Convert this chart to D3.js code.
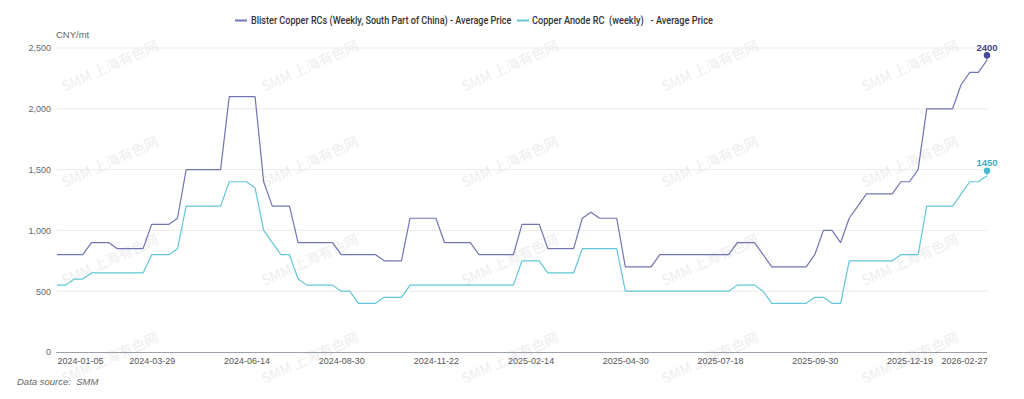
<!DOCTYPE html>
<html>
<head>
<meta charset="utf-8">
<script src="https://cdn.jsdelivr.net/npm/d3@7"></script>
<style>
  html, body { margin: 0; padding: 0; background: #fff; }
  svg { display: block; }
</style>
</head>
<body>
<div id="chart"></div>
<script>
// weekly assessment dates (holiday weeks shift or drop out)
const dates = [
  '2024-01-05','2024-01-12','2024-01-19','2024-01-26','2024-02-02','2024-02-09','2024-02-23','2024-03-01','2024-03-08','2024-03-15','2024-03-22',
  '2024-03-29','2024-04-03','2024-04-12','2024-04-19','2024-04-26','2024-04-30','2024-05-10','2024-05-17','2024-05-24','2024-05-31','2024-06-07',
  '2024-06-14','2024-06-21','2024-06-28','2024-07-05','2024-07-12','2024-07-19','2024-07-26','2024-08-02','2024-08-09','2024-08-16','2024-08-23',
  '2024-08-30','2024-09-06','2024-09-13','2024-09-20','2024-09-27','2024-10-11','2024-10-18','2024-10-25','2024-11-01','2024-11-08','2024-11-15',
  '2024-11-22','2024-11-29','2024-12-06','2024-12-13','2024-12-20','2024-12-27','2025-01-03','2025-01-10','2025-01-17','2025-01-24','2025-02-07',
  '2025-02-14','2025-02-21','2025-02-28','2025-03-07','2025-03-14','2025-03-21','2025-03-28','2025-04-03','2025-04-11','2025-04-18','2025-04-25',
  '2025-04-30','2025-05-09','2025-05-16','2025-05-23','2025-05-30','2025-06-06','2025-06-13','2025-06-20','2025-06-27','2025-07-04','2025-07-11',
  '2025-07-18','2025-07-25','2025-08-01','2025-08-08','2025-08-15','2025-08-22','2025-08-29','2025-09-05','2025-09-12','2025-09-19','2025-09-26',
  '2025-09-30','2025-10-10','2025-10-17','2025-10-24','2025-10-31','2025-11-07','2025-11-14','2025-11-21','2025-11-28','2025-12-05','2025-12-12',
  '2025-12-19','2025-12-26','2026-01-02','2026-01-09','2026-01-16','2026-01-23','2026-01-30','2026-02-06','2026-02-13','2026-02-27'
];

const blister = [
  800,800,800,800,900,900,900,850,850,850,850,
  1050,1050,1050,1100,1500,1500,1500,1500,1500,2100,2100,
  2100,2100,1400,1200,1200,1200,900,900,900,900,900,
  800,800,800,800,800,750,750,750,1100,1100,1100,
  1100,900,900,900,900,800,800,800,800,800,1050,
  1050,1050,850,850,850,850,1100,1150,1100,1100,1100,
  700,700,700,700,800,800,800,800,800,800,800,
  800,800,900,900,900,800,700,700,700,700,700,
  800,1000,1000,900,1100,1200,1300,1300,1300,1300,1400,
  1400,1500,2000,2000,2000,2000,2200,2300,2300,2400
];

const anode = [
  550,550,600,600,650,650,650,650,650,650,650,
  800,800,800,850,1200,1200,1200,1200,1200,1400,1400,
  1400,1350,1000,900,800,800,600,550,550,550,550,
  500,500,400,400,400,450,450,450,550,550,550,
  550,550,550,550,550,550,550,550,550,550,750,
  750,750,650,650,650,650,850,850,850,850,850,
  500,500,500,500,500,500,500,500,500,500,500,
  500,500,550,550,550,500,400,400,400,400,400,
  450,450,400,400,750,750,750,750,750,750,800,
  800,800,1200,1200,1200,1200,1300,1400,1400,1450
];

const tickLabels = ['2024-01-05','2024-03-29','2024-06-14','2024-08-30','2024-11-22','2025-02-14',
  '2025-04-30','2025-07-18','2025-09-30','2025-12-19','2026-02-27'];
const yTicks = [0, 500, 1000, 1500, 2000, 2500];

const seriesNames = ['Blister Copper RCs (Weekly, South Part of China) - Average Price',
  'Copper Anode RC  (weekly)   - Average Price'];

const width = 1024, height = 399;
const plotLeft = 57, plotRight = 987, plotTop = 48, plotBottom = 352;
const colBlister = '#7275b2', colAnode = '#63c6d6';
const axisFont = '"Liberation Sans", Arial, sans-serif';

const svg = d3.select('#chart').append('svg')
  .attr('width', width).attr('height', height)
  .attr('font-family', axisFont);

const x = d3.scalePoint().domain(dates).range([plotLeft, plotRight]);
const y = d3.scaleLinear().domain([0, 2500]).range([plotBottom, plotTop]);

// watermark
const wm = svg.append('g').attr('class', 'watermark');
[110, 310, 510, 710, 910].forEach(cx => {
  [66, 162, 260, 358].forEach(cy => {
    wm.append('text')
      .attr('transform', `translate(${cx},${cy}) rotate(-24)`)
      .attr('text-anchor', 'middle')
      .attr('dy', '0.35em')
      .attr('font-family', '"Noto Sans CJK SC", "Noto Sans", sans-serif')
      .attr('font-size', 14)
      .attr('fill', '#eeeeee')
      .text('SMM 上海有色网');
  });
});

// grid
svg.append('g').selectAll('line')
  .data(yTicks.filter(d => d > 0))
  .enter().append('line')
  .attr('x1', plotLeft).attr('x2', plotRight)
  .attr('y1', d => y(d)).attr('y2', d => y(d))
  .attr('stroke', '#ebebeb').attr('stroke-width', 1);

// y axis
const yAxis = svg.append('g')
  .attr('transform', `translate(${plotLeft},0)`)
  .call(d3.axisLeft(y).tickValues(yTicks).tickFormat(d3.format(',')).tickSize(0).tickPadding(6));
yAxis.select('.domain').remove();
yAxis.selectAll('text').attr('font-size', 9).attr('fill', '#666').attr('font-family', axisFont);

svg.append('text')
  .attr('x', 56).attr('y', 38)
  .attr('font-size', 9.5).attr('fill', '#666')
  .text('CNY/mt');

// x axis
const xAxis = svg.append('g')
  .attr('transform', `translate(0,${plotBottom})`)
  .call(d3.axisBottom(x).tickValues(tickLabels).tickSize(0).tickPadding(6));
xAxis.select('.domain').remove();
xAxis.selectAll('text').attr('font-size', 9).attr('fill', '#555').attr('font-family', axisFont)
  .attr('text-anchor', (d, i) => i === 0 ? 'start' : (i === tickLabels.length - 1 ? 'end' : 'middle'));
svg.append('line')
  .attr('x1', plotLeft - 1).attr('x2', plotRight)
  .attr('y1', plotBottom + 0.5).attr('y2', plotBottom + 0.5)
  .attr('stroke', '#9ea1ab').attr('stroke-width', 1);

// lines
const line = d3.line().x((d, i) => x(dates[i])).y(d => y(d));
[[anode, colAnode], [blister, colBlister]].forEach(([vals, c]) => {
  svg.append('path')
    .datum(vals)
    .attr('fill', 'none')
    .attr('stroke', c)
    .attr('stroke-width', 1.2)
    .attr('stroke-linejoin', 'round')
    .attr('d', line);
});

// end markers (small pin above the last point, value on top)
const ends = [
  { vals: blister, fill: '#444a94', text: '#3f4590' },
  { vals: anode, fill: '#48b9cc', text: '#3aafc5' }
];
ends.forEach(e => {
  const last = e.vals.length - 1;
  const px = x(dates[last]), py = y(e.vals[last]);
  svg.append('path')
    .attr('d', `M${px - 2},${py - 3.5} L${px},${py - 0.5} L${px + 2},${py - 3.5} Z`)
    .attr('fill', e.fill);
  svg.append('circle').attr('cx', px).attr('cy', py - 5).attr('r', 3.2).attr('fill', e.fill);
  svg.append('text')
    .attr('x', px).attr('y', py - 9.5)
    .attr('text-anchor', 'middle')
    .attr('font-size', 9.5).attr('font-weight', 'bold')
    .attr('fill', e.text)
    .text(e.vals[last]);
});

// legend
const legend = svg.append('g').attr('font-family', 'Roboto, "Noto Sans", sans-serif');
const legendItems = [
  { name: seriesNames[0], color: colBlister, sx: 235, tx: 251, w: 261 },
  { name: seriesNames[1], color: colAnode, sx: 517, tx: 532, w: 181 }
];
legendItems.forEach(it => {
  legend.append('line')
    .attr('x1', it.sx).attr('x2', it.sx + 12)
    .attr('y1', 20.5).attr('y2', 20.5)
    .attr('stroke', it.color).attr('stroke-width', 2);
  const t = legend.append('text')
    .attr('font-size', 10.5).attr('font-weight', 500).attr('fill', '#333')
    .style('white-space', 'pre')
    .text(it.name);
  const natural = t.node().getComputedTextLength();
  t.attr('transform', `translate(${it.tx},24.3) scale(${it.w / natural},1)`);
});

// source note
svg.append('text')
  .attr('x', 17).attr('y', 385)
  .attr('font-size', 9.5).attr('font-style', 'italic').attr('fill', '#666')
  .style('white-space', 'pre')
  .text('Data source:  SMM');
</script>
</body>
</html>
